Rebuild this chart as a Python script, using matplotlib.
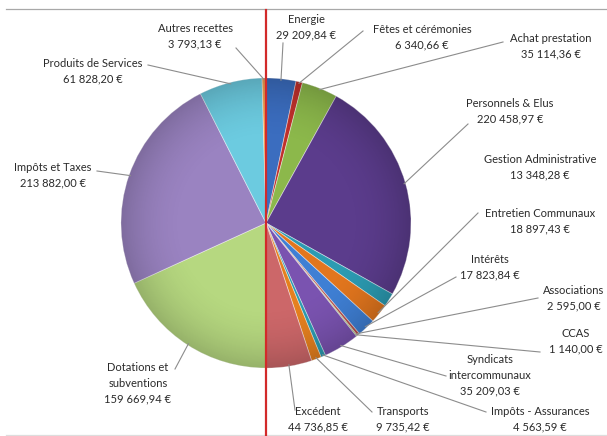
import numpy as np
import matplotlib
matplotlib.use("Agg")
import matplotlib.pyplot as plt

plt.rcParams['font.family'] = ['Lato', 'DejaVu Sans']

# ---- data ----
depense_labels = ["Energie", "Fêtes et cérémonies", "Achat prestation", "Personnels & Elus",
                  "Gestion Administrative", "Entretien Communaux", "Intérêts", "Associations",
                  "CCAS", "Syndicats\nintercommunaux", "Impôts - Assurances", "Transports", "Excédent"]
depense_values = [29209.84, 6340.66, 35114.36, 220458.97, 13348.28, 18897.43, 17823.84,
                  2595.00, 1140.00, 35209.03, 4563.59, 9735.42, 44736.85]
recette_labels = ["Dotations et\nsubventions", "Impôts et Taxes", "Produits de Services", "Autres recettes"]
recette_values = [159669.94, 213882.00, 61828.20, 3793.13]

depense_colors = ["#3b6dbf", "#c0302c", "#8cb84b", "#5b3c8c", "#2c9bb2", "#e2761e", "#3f7fd4",
                  "#b8504d", "#8fb552", "#7a53b0", "#2c9cb2", "#e5801f", "#cc6769"]
recette_colors = ["#b6d880", "#9a83c1", "#6ccbe0", "#f0a050"]

labels = depense_labels + recette_labels
values = depense_values + recette_values
colors = depense_colors + recette_colors
explode = [0] * len(values)
explode[depense_labels.index("Excédent")] = 0.08

W, H = 607, 436
def py(y):  # pixel-from-top -> data y
    return H - y

# text block centre (px) and leader start (px, None = no leader)
label_pos = {
    "Energie": ((306, 27), (283, 43)),
    "Fêtes et cérémonies": ((422, 37), (363, 31)),
    "Achat prestation": ((551, 46), (503, 42)),
    "Personnels & Elus": ((510, 111), (468, 124)),
    "Gestion Administrative": ((540, 167), None),
    "Entretien Communaux": ((540, 221), (478, 213)),
    "Intérêts": ((490, 267), (456, 277)),
    "Associations": ((574, 298), (538, 298)),
    "CCAS": ((576, 341), (540, 352)),
    "Syndicats\nintercommunaux": ((490, 375), (446, 376)),
    "Impôts - Assurances": ((540, 419), (486, 412)),
    "Transports": ((403, 419), (372, 412)),
    "Excédent": ((318, 419), (295, 410)),
    "Dotations et\nsubventions": ((138, 383), (175, 369)),
    "Impôts et Taxes": ((53, 175), (97, 171)),
    "Produits de Services": ((93, 71), (148, 65)),
    "Autres recettes": ((195, 36), (236, 48)),
}

def fmt(v):
    s = f"{v:,.2f}".replace(",", " ").replace(".", ",")
    return s + " €"

fig = plt.figure(figsize=(W / 100, H / 100), dpi=100)
ax = fig.add_axes([0, 0, 1, 1])

cx, cy, R = 266, py(223), 145
wedges, _ = ax.pie(values, colors=colors, startangle=90, counterclock=False,
                   center=(cx, cy), radius=R, explode=explode,
                   wedgeprops=dict(edgecolor=(1, 1, 1, 0.45), linewidth=0.6))

ax.set_xlim(0, W)
ax.set_ylim(0, H)
ax.set_aspect('auto')
ax.axis('off')

# subtle shading toward the rim
yy, xx = np.mgrid[0:H, 0:W]
rr = np.hypot(xx - cx, (H - yy) - cy) / R
shade = np.zeros((H, W, 4))
shade[..., 3] = np.clip((rr - 0.55) / 0.45, 0, 1) ** 2 * 0.18
for w in wedges:
    im = ax.imshow(shade, extent=(0, W, 0, H), origin='upper', zorder=w.get_zorder() + 0.1)
    im.set_clip_path(w)

for w, lab, val, ex in zip(wedges, labels, values, explode):
    (tx, ty), lead = label_pos[lab]
    ax.text(tx, py(ty), lab + "\n" + fmt(val), ha='center', va='center', fontsize=8,
            color='#2a2a2a', linespacing=1.5, zorder=5)
    if lead is None:
        continue
    mid = np.deg2rad((w.theta1 + w.theta2) / 2)
    cxw, cyw = w.center
    ex_x = cxw + R * 0.99 * np.cos(mid)
    ex_y = cyw + R * 0.99 * np.sin(mid)
    ax.plot([lead[0], ex_x], [py(lead[1]), ex_y], color='#8c8c8c', lw=0.8, zorder=4)

# red separator line and frame lines
ax.plot([266, 266], [py(10), py(436)], color='#d22a2a', lw=1.6, zorder=6)
ax.plot([6, W], [py(9), py(9)], color='#a8a8a8', lw=0.9, zorder=1)
ax.plot([6, W], [py(435), py(435)], color='#dddddd', lw=0.9, zorder=1)

fig.savefig("out.png", dpi=100)
